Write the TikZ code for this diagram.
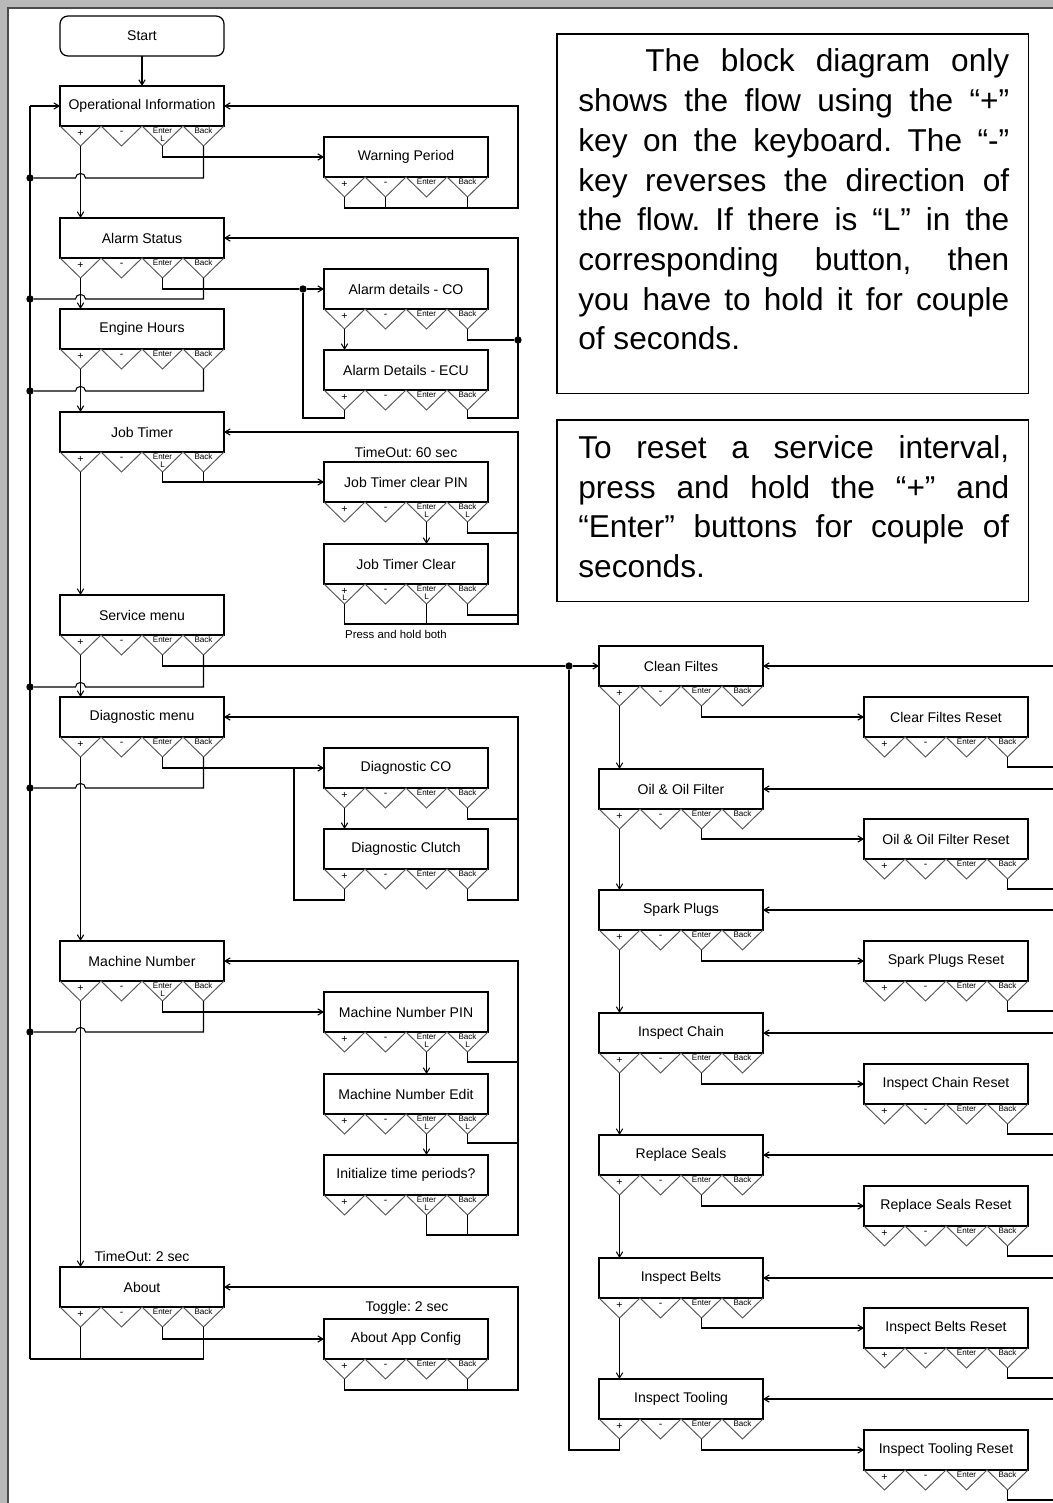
\documentclass[tikz,border=0pt]{standalone}
\usepackage{fontspec}
\setmainfont{Liberation Sans}
\usetikzlibrary{calc,arrows.meta}
\frenchspacing
\newcommand{\menublk}[7]{%
  \node[mb] (#1) at (#2,#3) {#4};
  \draw[tri] (#1.south west) -- ++(20.5,20) coordinate (#1-p) -- ++(20.5,-20)
     -- ++(20.5,20) coordinate (#1-m) -- ++(20.5,-20)
     -- ++(20.5,20) coordinate (#1-e) -- ++(20.5,-20)
     -- ++(20.5,20) coordinate (#1-b) -- ++(20.5,-20);
  \node[bl] at ($(#1-p)+(0,-13)$) {+};
  \node[bl] at ($(#1-m)+(0,-13)$) {-};
  \node[sl] at ($(#1-e)+(0,-15)$) {Enter};
  \node[sl] at ($(#1-b)+(0,-15)$) {Back};
  \node[sl] at ($(#1-p)+(0,-6)$) {#5};
  \node[sl] at ($(#1-e)+(0,-7)$) {#6};
  \node[sl] at ($(#1-b)+(0,-7)$) {#7};
}
\newcommand{\hopto}[3]{%
  \draw[ln] (#1) |- ($(#2 |- #3)+(5,0)$) .. controls +(0,-6) and +(0,-6) .. ($(#2 |- #3)+(-5,0)$) -- (#3);
}
\begin{document}
\begin{tikzpicture}[x=0.02cm,y=-0.02cm,
  mb/.style={draw, line width=0.7pt, minimum width=3.28cm, minimum height=0.8cm, inner sep=0pt, outer sep=0pt, font=\fontsize{8}{9.6}\selectfont},
  tri/.style={draw=black!65, line width=0.55pt},
  ln/.style={line width=0.6pt},
  arr/.style={ln, -{Straight Barb[length=3pt,width=3.6pt]}},
  dot/.style={circle, fill, inner sep=0pt, minimum size=4.2pt},
  bl/.style={font=\fontsize{6}{6.5}\selectfont, inner sep=0pt},
  sl/.style={font=\fontsize{4.6}{5}\selectfont, inner sep=0pt},
  lab/.style={font=\fontsize{8}{9.6}\selectfont, inner sep=0pt},
  note/.style={font=\fontsize{18}{22}\selectfont, anchor=base west, inner sep=0pt},
  nbox/.style={draw, line width=0.6pt, anchor=north west, inner sep=0pt, outer sep=0pt, minimum width=9.44cm},
]
\useasboundingbox (0,0) rectangle (1053,1503);
\clip (0,0) rectangle (1053,1503);
\fill[gray!55] (0,0) rectangle (1053,1503);
\fill[white] (8,8) rectangle (1060,1510);
\draw[black!70, line width=0.6pt] (8,1510) -- (8,8) -- (1060,8);

% ---------- notes ----------
\node[nbox, minimum height=7.2cm] (note1) at (557,34) {};
\node[note] (n1) at (645,72) {\makebox[7.28cm][s]{The block diagram only}};
\node[note] (n2) at (578,112) {\makebox[8.62cm][s]{shows the flow using the “+”}};
\node[note] (n3) at (578,152) {\makebox[8.62cm][s]{key on the keyboard. The “-”}};
\node[note] (n4) at (578,192) {\makebox[8.62cm][s]{key reverses the direction of}};
\node[note] (n5) at (578,231) {\makebox[8.62cm][s]{the flow. If there is “L” in the}};
\node[note] (n6) at (578,271) {\makebox[8.62cm][s]{corresponding button, then}};
\node[note] (n7) at (578,311) {\makebox[8.62cm][s]{you have to hold it for couple}};
\node[note] (n8) at (578,350) {of seconds.};

\node[nbox, minimum height=3.64cm] (note2) at (557,420) {};
\node[note] (m1) at (578,458) {\makebox[8.62cm][s]{To reset a service interval,}};
\node[note] (m2) at (578,498) {\makebox[8.62cm][s]{press and hold the “+” and}};
\node[note] (m3) at (578,537) {\makebox[8.62cm][s]{“Enter” buttons for couple of}};
\node[note] (m4) at (578,577) {seconds.};

% ---------- column 1 ----------
\node[mb, rounded corners=4.5pt] (start) at (142,36) {Start};
\menublk{opinfo}{142}{106}{Operational Information}{}{L}{}
\menublk{alarm}{142}{238}{Alarm Status}{}{}{}
\menublk{engine}{142}{329}{Engine Hours}{}{}{}
\menublk{jobt}{142}{432}{Job Timer}{}{L}{}
\menublk{service}{142}{615}{Service menu}{}{}{}
\menublk{diag}{142}{717}{Diagnostic menu}{}{}{}
\menublk{machine}{142}{961}{Machine Number}{}{L}{}
\menublk{about}{142}{1287}{About}{}{}{}

% ---------- column 2 ----------
\menublk{warn}{406}{157}{Warning Period}{}{}{}
\menublk{alco}{406}{289}{Alarm details - CO}{}{}{}
\menublk{alecu}{406}{370}{Alarm Details - ECU}{}{}{}
\menublk{jtpin}{406}{482}{Job Timer clear PIN}{}{L}{L}
\menublk{jtclr}{406}{564}{Job Timer Clear}{L}{L}{}
\menublk{dco}{406}{768}{Diagnostic CO}{}{}{}
\menublk{dclu}{406}{849}{Diagnostic Clutch}{}{}{}
\menublk{mnpin}{406}{1012}{Machine Number PIN}{}{L}{L}
\menublk{mnedit}{406}{1094}{Machine Number Edit}{}{L}{L}
\menublk{init}{406}{1175}{Initialize time periods?}{}{L}{}
\menublk{appcfg}{406}{1339}{About App Config}{}{}{}

\node[lab] (to60) at (406,452) {TimeOut: 60 sec};
\node[font=\fontsize{6.5}{7}\selectfont, inner sep=0pt] (phb) at (396,634) {Press and hold both};
\node[lab] (to2) at (142,1256) {TimeOut: 2 sec};
\node[lab] (tg2) at (407,1308) {Toggle: 2 sec};

% ---------- column 3 / 4 ----------
\menublk{clean}{681}{666}{Clean Filtes}{}{}{}
\menublk{oil}{681}{789}{Oil \& Oil Filter}{}{}{}
\menublk{spark}{681}{910}{Spark Plugs}{}{}{}
\menublk{chain}{681}{1033}{Inspect Chain}{}{}{}
\menublk{seals}{681}{1155}{Replace Seals}{}{}{}
\menublk{belts}{681}{1278}{Inspect Belts}{}{}{}
\menublk{tooling}{681}{1399}{Inspect Tooling}{}{}{}

\menublk{cleanr}{946}{717}{Clear Filtes Reset}{}{}{}
\menublk{oilr}{946}{839}{Oil \& Oil Filter Reset}{}{}{}
\menublk{sparkr}{946}{961}{Spark Plugs Reset}{}{}{}
\menublk{chainr}{946}{1084}{Inspect Chain Reset}{}{}{}
\menublk{sealsr}{946}{1206}{Replace Seals Reset}{}{}{}
\menublk{beltsr}{946}{1328}{Inspect Belts Reset}{}{}{}
\menublk{toolingr}{946}{1450}{Inspect Tooling Reset}{}{}{}

% ---------- dots and coordinates ----------
\coordinate (bt) at (30,106);
\coordinate (bb) at (30,1359);
\node[dot] (d1) at (30,178) {};
\node[dot] (d2) at (30,299) {};
\node[dot] (d3) at (30,391) {};
\node[dot] (d4) at (30,687) {};
\node[dot] (d5) at (30,788) {};
\node[dot] (d6) at (30,1032) {};
\node[dot] (dA) at (303,289) {};
\node[dot] (dB) at (518,340) {};
\node[dot] (dC) at (569,666) {};
\coordinate (jD) at (294,768);
\coordinate (cB) at (569,1450);

% ---------- left bus ----------
\draw[ln] (bb) -- (bt);
\draw[arr] (bt) -- (opinfo.west);
\draw[arr] (start) -- (opinfo);

% Operational Information
\draw[arr] (opinfo-p) -- (opinfo-p |- alarm.north);
\hopto{opinfo-b}{opinfo-p}{d1}
\draw[arr] (opinfo-e) |- (warn.west);
\draw[arr] (warn-p) |- (518,208) |- (opinfo.east);
\draw[ln] (warn-m) -- ++(0,11);
\draw[ln] (warn-b) -- ++(0,11);

% Alarm Status
\draw[arr] (alarm-p) -- (alarm-p |- engine.north);
\hopto{alarm-b}{alarm-p}{d2}
\draw[ln] (alarm-e) |- (dA);
\draw[arr] (dA) -- (alco.west);
\draw[arr] (alco-p) -- (alco-p |- alecu.north);
\draw[ln] (alco-b) |- (dB);
\draw[ln] (alecu-p) |- (303,418) -- (dA);
\draw[arr] (alecu-b) |- (518,418) |- (alarm.east);

% Engine Hours
\draw[arr] (engine-p) -- (engine-p |- jobt.north);
\hopto{engine-b}{engine-p}{d3}

% Job Timer
\draw[arr] (jobt-p) -- (jobt-p |- service.north);
\draw[arr] (jobt-e) |- (jtpin.west);
\draw[ln] (jobt-b) -- (jobt-b |- jtpin.west);
\draw[arr] (jtpin-e) -- (jtpin-e |- jtclr.north);
\draw[ln] (jtpin-b) |- (518,533);
\draw[ln] (jtclr-b) |- (518,615);
\draw[arr] (jtclr-p) |- (518,624) |- (jobt.east);
\draw[ln] (jtclr-e) -- ++(0,20);

% Service menu
\draw[arr] (service-p) -- (service-p |- diag.north);
\hopto{service-b}{service-p}{d4}
\draw[ln] (service-e) |- (dC);
\draw[arr] (dC) -- (clean.west);

% Diagnostic menu
\draw[arr] (diag-p) -- (diag-p |- machine.north);
\hopto{diag-b}{diag-p}{d5}
\draw[ln] (diag-e) |- (jD);
\draw[arr] (jD) -- (dco.west);
\draw[arr] (dco-p) -- (dco-p |- dclu.north);
\draw[ln] (dclu-p) |- (294,900) -- (jD);
\draw[ln] (dco-b) |- (518,819);
\draw[arr] (dclu-b) |- (518,900) |- (diag.east);

% Machine Number
\draw[arr] (machine-p) -- (machine-p |- about.north);
\hopto{machine-b}{machine-p}{d6}
\draw[arr] (machine-e) |- (mnpin.west);
\draw[arr] (mnpin-e) -- (mnpin-e |- mnedit.north);
\draw[arr] (mnedit-e) -- (mnedit-e |- init.north);
\draw[ln] (mnpin-b) |- (518,1062);
\draw[ln] (mnedit-b) |- (518,1143);
\draw[arr] (init-e) |- (518,1235) |- (machine.east);
\draw[ln] (init-b) -- ++(0,20);

% About
\draw[ln] (about-b) |- (bb);
\draw[ln] (about-p) -- (about-p |- bb);
\draw[arr] (about-e) |- (appcfg.west);
\draw[arr] (appcfg-p) |- (518,1390) |- (about.east);
\draw[ln] (appcfg-b) -- ++(0,11);

% ---------- service column ----------
\draw[ln] (tooling-p) |- (cB) -- (dC);
\draw[arr] (clean-p) -- (clean-p |- oil.north);
\draw[arr] (oil-p) -- (oil-p |- spark.north);
\draw[arr] (spark-p) -- (spark-p |- chain.north);
\draw[arr] (chain-p) -- (chain-p |- seals.north);
\draw[arr] (seals-p) -- (seals-p |- belts.north);
\draw[arr] (belts-p) -- (belts-p |- tooling.north);

\foreach \a/\r in {clean/cleanr, oil/oilr, spark/sparkr, chain/chainr, seals/sealsr, belts/beltsr, tooling/toolingr}{
  \draw[arr] (\a-e) |- (\r.west);
  \draw[ln] (\r-b) -- ++(0,10) -- ++(60,0);
  \draw[arr] ($(\a.east)+(300,0)$) -- (\a.east);
}
\end{tikzpicture}
\end{document}
